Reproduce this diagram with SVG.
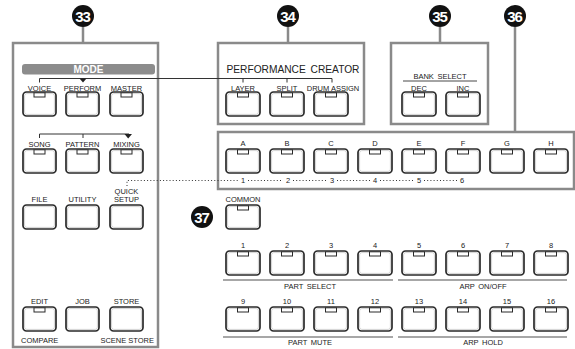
<svg xmlns="http://www.w3.org/2000/svg" xmlns:xlink="http://www.w3.org/1999/xlink" width="575" height="349" viewBox="0 0 575 349">
<style>
.panel{fill:#ffffff;stroke:#8a8a8a;stroke-width:2.5}
.lead{stroke:#8a8a8a;stroke-width:2.5;fill:none}
.lbl{font-family:"Liberation Sans",Arial,sans-serif;font-size:7.5px;fill:#222;text-anchor:middle}
.badge circle{fill:#111}
.badge text{font-family:"Liberation Sans",Arial,sans-serif;font-size:15px;font-weight:bold;fill:#fff;text-anchor:middle;letter-spacing:-1px}
.thin{stroke:#333;stroke-width:1;fill:none}
.grp{stroke:#8a8a8a;stroke-width:1.4;fill:none}
.dot{stroke:#333;stroke-width:1;fill:none;stroke-dasharray:1 2.2}
</style>
<defs>
<g id="btn">
<rect x="0" y="0" width="33" height="24" rx="3.5" fill="#fff" stroke="#2a2a2a" stroke-width="1.7"/>
<rect x="1.6" y="1.6" width="29.8" height="20.8" rx="2.2" fill="none" stroke="#b5b5b5" stroke-width="0.6"/>
</g>
<g id="btnL">
<use xlink:href="#btn"/>
<rect x="11" y="0.8" width="11" height="4.2" fill="#fff" stroke="#2a2a2a" stroke-width="1"/>
</g>
<g id="btn4">
<rect x="0" y="0" width="34" height="24" rx="3.5" fill="#fff" stroke="#2a2a2a" stroke-width="1.7"/>
<rect x="1.6" y="1.6" width="30.8" height="20.8" rx="2.2" fill="none" stroke="#b5b5b5" stroke-width="0.6"/>
<rect x="11.5" y="0.8" width="11" height="4.2" fill="#fff" stroke="#2a2a2a" stroke-width="1"/>
</g>
</defs>

<!-- panels -->
<g id="mode-panel">
<rect class="panel" x="13" y="43" width="145" height="304"/>
<rect x="22" y="64" width="133" height="10.5" rx="3" fill="#8c8c8c"/>
<text x="88.5" y="73.2" style="font-family:'Liberation Sans',Arial,sans-serif;font-size:10px;font-weight:bold;fill:#fff;text-anchor:middle">MODE</text>
</g>
<g id="pc-panel">
<rect class="panel" x="218" y="43" width="146" height="81"/>
<text x="293" y="73" style="font-family:'Liberation Sans',Arial,sans-serif;font-size:10.2px;fill:#222;text-anchor:middle;word-spacing:2px">PERFORMANCE CREATOR</text>
</g>
<g id="bank-panel">
<rect class="panel" x="391" y="43" width="97" height="81"/>
<text class="lbl" x="440" y="79" style="word-spacing:1.5px">BANK SELECT</text>
<line x1="403" y1="81" x2="477" y2="81" stroke="#333" stroke-width="0.9"/>
</g>
<g id="ah-panel">
<rect class="panel" x="218" y="132" width="356" height="57"/>
</g>

<!-- connectors -->
<g id="connectors">
<line class="lead" x1="83" y1="27" x2="83" y2="43"/>
<line class="lead" x1="288" y1="27" x2="288" y2="43"/>
<line class="lead" x1="440" y1="27" x2="440" y2="43"/>
<line class="lead" x1="515" y1="27" x2="515" y2="132"/>
<path class="thin" d="M39.5 82.5 V78.5 H332 V82.5 M243 78.5 V82.5 M287 78.5 V82.5"/>
<polygon points="79.5,78.5 86.5,78.5 83,82.5" fill="#222"/>
<path class="thin" d="M39.5 138 V134 H129"/>
<path class="thin" d="M83 134 V138"/>
<polygon points="124.5,134 132,134 128.2,138.5" fill="#222"/>
<path class="dot" d="M127 186 V180.5 H238"/>
<path class="dot" d="M248 180.5 H283 M293 180.5 H327 M337 180.5 H370 M380 180.5 H414 M424 180.5 H457"/>
<line class="grp" x1="223" y1="280" x2="393" y2="280"/>
<line class="grp" x1="398" y1="280" x2="567" y2="280"/>
<line class="grp" x1="223" y1="337" x2="393" y2="337"/>
<line class="grp" x1="398" y1="337" x2="567" y2="337"/>
</g>

<!-- badges -->
<g id="badge-33" class="badge"><circle cx="83" cy="16" r="11"/><text x="82.5" y="21.5">33</text></g>
<g id="badge-34" class="badge"><circle cx="288" cy="16" r="11"/><text x="287.5" y="21.5">34</text></g>
<g id="badge-35" class="badge"><circle cx="440" cy="16" r="11"/><text x="439.5" y="21.5">35</text></g>
<g id="badge-36" class="badge"><circle cx="515" cy="16" r="11"/><text x="514.5" y="21.5">36</text></g>
<g id="badge-37" class="badge"><circle cx="202" cy="217" r="11"/><text x="201.5" y="222.5">37</text></g>

<!-- mode buttons -->
<g id="btn-voice"><use xlink:href="#btnL" x="23" y="92"/><text class="lbl" x="39.5" y="90.5">VOICE</text></g>
<g id="btn-perform"><use xlink:href="#btnL" x="66" y="92"/><text class="lbl" x="82.5" y="90.5">PERFORM</text></g>
<g id="btn-master"><use xlink:href="#btnL" x="110" y="92"/><text class="lbl" x="126.5" y="90.5">MASTER</text></g>
<g id="btn-song"><use xlink:href="#btnL" x="23" y="149"/><text class="lbl" x="39.5" y="146.5">SONG</text></g>
<g id="btn-pattern"><use xlink:href="#btnL" x="66" y="149"/><text class="lbl" x="82.5" y="146.5">PATTERN</text></g>
<g id="btn-mixing"><use xlink:href="#btnL" x="110" y="149"/><text class="lbl" x="126.5" y="146.5">MIXING</text></g>
<g id="btn-file"><use xlink:href="#btn" x="23" y="205"/><text class="lbl" x="39.5" y="202">FILE</text></g>
<g id="btn-utility"><use xlink:href="#btn" x="66" y="205"/><text class="lbl" x="82.5" y="202">UTILITY</text></g>
<g id="btn-quicksetup"><use xlink:href="#btn" x="110" y="205"/><text class="lbl" x="126.5" y="193.5">QUICK</text><text class="lbl" x="126.5" y="202">SETUP</text></g>
<g id="btn-edit"><use xlink:href="#btnL" x="23" y="307"/><text class="lbl" x="39.5" y="303.5">EDIT</text><text class="lbl" x="21" y="343" style="text-anchor:start">COMPARE</text></g>
<g id="btn-job"><use xlink:href="#btn" x="66" y="307"/><text class="lbl" x="82.5" y="303.5">JOB</text></g>
<g id="btn-store"><use xlink:href="#btn" x="110" y="307"/><text class="lbl" x="126.5" y="303.5">STORE</text><text class="lbl" x="154" y="343" style="text-anchor:end">SCENE STORE</text></g>

<!-- performance creator -->
<g id="btn-layer"><use xlink:href="#btn4" x="226" y="92"/><text class="lbl" x="243" y="90.5">LAYER</text></g>
<g id="btn-split"><use xlink:href="#btn4" x="270" y="92"/><text class="lbl" x="287" y="90.5">SPLIT</text></g>
<g id="btn-drumassign"><use xlink:href="#btn4" x="314" y="92"/><text class="lbl" x="333" y="90.5">DRUM ASSIGN</text></g>

<!-- bank select -->
<g id="btn-dec"><use xlink:href="#btn4" x="402" y="92"/><text class="lbl" x="419" y="90.5">DEC</text></g>
<g id="btn-inc"><use xlink:href="#btn4" x="446" y="92"/><text class="lbl" x="463" y="90.5">INC</text></g>

<!-- A-H -->
<g id="btn-a"><use xlink:href="#btn4" x="226" y="149"/><text class="lbl" x="243" y="146">A</text><text class="lbl" x="243" y="183">1</text></g>
<g id="btn-b"><use xlink:href="#btn4" x="270" y="149"/><text class="lbl" x="287" y="146">B</text><text class="lbl" x="288" y="183">2</text></g>
<g id="btn-c"><use xlink:href="#btn4" x="314" y="149"/><text class="lbl" x="331" y="146">C</text><text class="lbl" x="332" y="183">3</text></g>
<g id="btn-d"><use xlink:href="#btn4" x="358" y="149"/><text class="lbl" x="375" y="146">D</text><text class="lbl" x="375" y="183">4</text></g>
<g id="btn-e"><use xlink:href="#btn4" x="402" y="149"/><text class="lbl" x="419" y="146">E</text><text class="lbl" x="419" y="183">5</text></g>
<g id="btn-f"><use xlink:href="#btn4" x="446" y="149"/><text class="lbl" x="463" y="146">F</text><text class="lbl" x="462" y="183">6</text></g>
<g id="btn-g"><use xlink:href="#btn4" x="490" y="149"/><text class="lbl" x="507" y="146">G</text></g>
<g id="btn-h"><use xlink:href="#btn4" x="534" y="149"/><text class="lbl" x="551" y="146">H</text></g>

<g id="btn-common"><use xlink:href="#btn4" x="226" y="205"/><text class="lbl" x="243" y="202">COMMON</text></g>

<!-- part buttons 1-8 -->
<g id="btn-1"><use xlink:href="#btn4" x="226" y="251"/><text class="lbl" x="243" y="247.5">1</text></g>
<g id="btn-2"><use xlink:href="#btn4" x="270" y="251"/><text class="lbl" x="287" y="247.5">2</text></g>
<g id="btn-3"><use xlink:href="#btn4" x="314" y="251"/><text class="lbl" x="331" y="247.5">3</text></g>
<g id="btn-4"><use xlink:href="#btn4" x="358" y="251"/><text class="lbl" x="375" y="247.5">4</text></g>
<g id="btn-5"><use xlink:href="#btn4" x="402" y="251"/><text class="lbl" x="419" y="247.5">5</text></g>
<g id="btn-6"><use xlink:href="#btn4" x="446" y="251"/><text class="lbl" x="463" y="247.5">6</text></g>
<g id="btn-7"><use xlink:href="#btn4" x="490" y="251"/><text class="lbl" x="507" y="247.5">7</text></g>
<g id="btn-8"><use xlink:href="#btn4" x="534" y="251"/><text class="lbl" x="551" y="247.5">8</text></g>
<g id="lbl-partselect"><text class="lbl" x="310" y="288.5" style="word-spacing:1.5px">PART SELECT</text></g>
<g id="lbl-arponoff"><text class="lbl" x="483" y="288.5" style="word-spacing:1.5px">ARP ON/OFF</text></g>

<!-- part buttons 9-16 -->
<g id="btn-9"><use xlink:href="#btn4" x="226" y="307"/><text class="lbl" x="243" y="303.5">9</text></g>
<g id="btn-10"><use xlink:href="#btn4" x="270" y="307"/><text class="lbl" x="287" y="303.5">10</text></g>
<g id="btn-11"><use xlink:href="#btn4" x="314" y="307"/><text class="lbl" x="331" y="303.5">11</text></g>
<g id="btn-12"><use xlink:href="#btn4" x="358" y="307"/><text class="lbl" x="375" y="303.5">12</text></g>
<g id="btn-13"><use xlink:href="#btn4" x="402" y="307"/><text class="lbl" x="419" y="303.5">13</text></g>
<g id="btn-14"><use xlink:href="#btn4" x="446" y="307"/><text class="lbl" x="463" y="303.5">14</text></g>
<g id="btn-15"><use xlink:href="#btn4" x="490" y="307"/><text class="lbl" x="507" y="303.5">15</text></g>
<g id="btn-16"><use xlink:href="#btn4" x="534" y="307"/><text class="lbl" x="551" y="303.5">16</text></g>
<g id="lbl-partmute"><text class="lbl" x="310" y="344.5" style="word-spacing:1.5px">PART MUTE</text></g>
<g id="lbl-arphold"><text class="lbl" x="483" y="344.5" style="word-spacing:1.5px">ARP HOLD</text></g>
</svg>
